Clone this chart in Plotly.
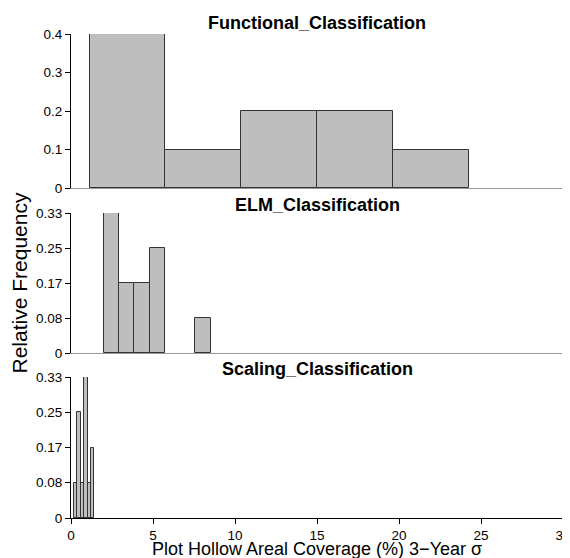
import plotly.graph_objects as go

# page body has an 8px margin, so the figure is placed 8px in from the window
OFF = 8
W, H = 570 - OFF, 558 - OFF

# Data: histogram bin edges and relative frequencies
func_edges = [1.13, 5.76, 10.39, 15.02, 19.65, 24.28]
func_freq = [0.4, 0.1, 0.2, 0.2, 0.1]

elm_edges = [2.0, 2.93, 3.86, 4.79, 5.72, 6.65, 7.58, 8.51]
elm_freq = [4/12, 2/12, 2/12, 3/12, 0, 0, 1/12]

scal_edges = [0.18, 0.387, 0.593, 0.80, 1.007, 1.213, 1.42]
scal_freq = [1/12, 3/12, 1/12, 4/12, 1/12, 2/12]

titles = ["Functional_Classification", "ELM_Classification", "Scaling_Classification"]
x_ticks = [0, 5, 10, 15, 20, 25, 30]
y_ticks_func = [0, 0.1, 0.2, 0.3, 0.4]
y_ticktext_func = ["0", "0.1", "0.2", "0.3", "0.4"]
y_ticks_12 = [0, 1/12, 2/12, 3/12, 4/12]
y_ticktext_12 = ["0", "0.08", "0.17", "0.25", "0.33"]

FONT = "Liberation Sans, Arial, Helvetica, sans-serif"

def px_x(p):
    return (p - OFF) / W

def px_y(p):
    return 1 - (p - OFF) / H

# pixel layout of panels in the window (top px, bottom px)
panels = [(34, 188), (213, 353), (377, 518)]
x_left, x_right = 71, 563

fig = go.Figure()
datasets = [(func_edges, func_freq), (elm_edges, elm_freq), (scal_edges, scal_freq)]
for i, (edges, freq) in enumerate(datasets):
    idx = [k for k in range(len(freq)) if freq[k] > 0]
    centers = [(edges[k] + edges[k + 1]) / 2 for k in idx]
    widths = [edges[k + 1] - edges[k] for k in idx]
    vals = [freq[k] for k in idx]
    sfx = "" if i == 0 else str(i + 1)
    fig.add_trace(go.Bar(
        x=centers, y=vals, width=widths,
        marker=dict(color="#BEBEBE", line=dict(color="#333333", width=1)),
        xaxis="x" + sfx, yaxis="y" + sfx, showlegend=False, cliponaxis=False,
    ))

layout = dict(
    width=W, height=H,
    margin=dict(l=0, r=0, t=0, b=0, autoexpand=False),
    paper_bgcolor="white", plot_bgcolor="white",
    font=dict(family=FONT, color="black"),
    bargap=0,
    annotations=[],
)

TICK = 13.5
title_y = [23, 205, 369]
for i, (top, bot) in enumerate(panels):
    sfx = "" if i == 0 else str(i + 1)
    ymax = 0.4 if i == 0 else 4/12
    last = i == 2
    layout["xaxis" + sfx] = dict(
        domain=[px_x(x_left), px_x(x_right)], range=[0, 30],
        anchor="y" + sfx, showgrid=False, zeroline=False,
        showline=True, linecolor="black" if last else "#999999", linewidth=1,
        ticks="outside" if last else "", ticklen=5, tickcolor="black",
        tickvals=x_ticks if last else [], showticklabels=last,
        tickfont=dict(size=TICK, family=FONT, color="black"),
        ticklabeloverflow="allow",
        automargin=False,
    )
    layout["yaxis" + sfx] = dict(
        domain=[px_y(bot), px_y(top)], range=[0, ymax],
        anchor="x" + sfx, showgrid=False, zeroline=False,
        showline=True, linecolor="black", linewidth=1,
        ticks="outside", ticklen=5, tickcolor="black",
        tickvals=y_ticks_func if i == 0 else y_ticks_12,
        ticktext=y_ticktext_func if i == 0 else y_ticktext_12,
        tickfont=dict(size=TICK, family=FONT, color="black"),
        ticklabeloverflow="allow",
        automargin=False,
    )
    layout["annotations"].append(dict(
        text="<b>" + titles[i] + "</b>", x=px_x((x_left + x_right) / 2), y=px_y(title_y[i]),
        xref="paper", yref="paper", showarrow=False, xanchor="center", yanchor="middle",
        font=dict(size=18, family=FONT, color="black"),
    ))

layout["annotations"].append(dict(
    text="Relative Frequency", x=px_x(18.5), y=px_y(283), xref="paper", yref="paper",
    showarrow=False, textangle=-90, xanchor="center", yanchor="middle",
    font=dict(size=21, family=FONT, color="black"),
))
layout["annotations"].append(dict(
    text="Plot Hollow Areal Coverage (%) 3\u2212Year \u03c3", x=px_x(317), y=px_y(549),
    xref="paper", yref="paper", showarrow=False, xanchor="center", yanchor="middle",
    font=dict(size=18, family=FONT, color="black"),
))

fig.update_layout(**layout)
fig.write_html("out.html")
